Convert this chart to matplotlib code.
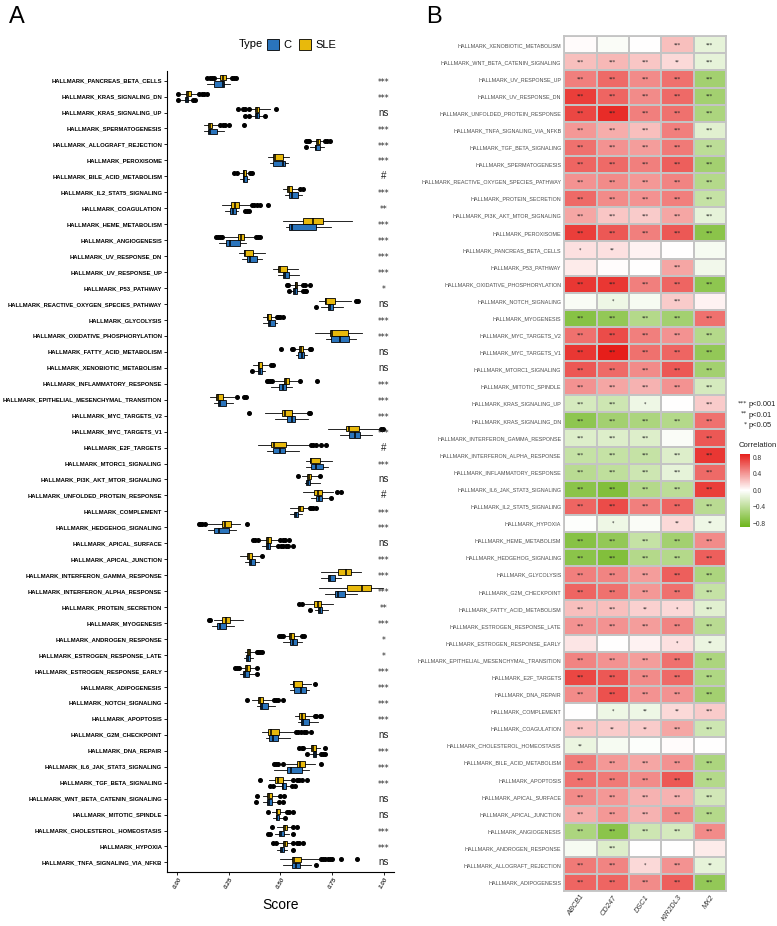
import numpy as np
import matplotlib
matplotlib.use('Agg')
import matplotlib.pyplot as plt
from matplotlib.colors import LinearSegmentedColormap
from matplotlib.patches import Patch

# ---------------------------------------------------------------
# Panel A data: ssGSEA scores (box stats: whislo, q1, med, q3, whishi)
# ---------------------------------------------------------------
pathways_a = [
    'PANCREAS_BETA_CELLS', 'KRAS_SIGNALING_DN', 'KRAS_SIGNALING_UP', 'SPERMATOGENESIS',
    'ALLOGRAFT_REJECTION', 'PEROXISOME', 'BILE_ACID_METABOLISM', 'IL2_STAT5_SIGNALING',
    'COAGULATION', 'HEME_METABOLISM', 'ANGIOGENESIS', 'UV_RESPONSE_DN', 'UV_RESPONSE_UP',
    'P53_PATHWAY', 'REACTIVE_OXYGEN_SPECIES_PATHWAY', 'GLYCOLYSIS', 'OXIDATIVE_PHOSPHORYLATION',
    'FATTY_ACID_METABOLISM', 'XENOBIOTIC_METABOLISM', 'INFLAMMATORY_RESPONSE',
    'EPITHELIAL_MESENCHYMAL_TRANSITION', 'MYC_TARGETS_V2', 'MYC_TARGETS_V1', 'E2F_TARGETS',
    'MTORC1_SIGNALING', 'PI3K_AKT_MTOR_SIGNALING', 'UNFOLDED_PROTEIN_RESPONSE', 'COMPLEMENT',
    'HEDGEHOG_SIGNALING', 'APICAL_SURFACE', 'APICAL_JUNCTION', 'INTERFERON_GAMMA_RESPONSE',
    'INTERFERON_ALPHA_RESPONSE', 'PROTEIN_SECRETION', 'MYOGENESIS', 'ANDROGEN_RESPONSE',
    'ESTROGEN_RESPONSE_LATE', 'ESTROGEN_RESPONSE_EARLY', 'ADIPOGENESIS', 'NOTCH_SIGNALING',
    'APOPTOSIS', 'G2M_CHECKPOINT', 'DNA_REPAIR', 'IL6_JAK_STAT3_SIGNALING', 'TGF_BETA_SIGNALING',
    'WNT_BETA_CATENIN_SIGNALING', 'MITOTIC_SPINDLE', 'CHOLESTEROL_HOMEOSTASIS', 'HYPOXIA',
    'TNFA_SIGNALING_VIA_NFKB',
]

signif_a = ['***', '***', 'ns', '***', '***', '***', '#', '***', '**', '***', '***', '***', '***',
            '*', 'ns', '***', '***', 'ns', 'ns', '***', '***', '***', '***', '#', '***', 'ns', '#',
            '***', '***', 'ns', '***', '***', '***', '**', '***', '*', '*', '***', '***', '***',
            '***', 'ns', '***', '***', '***', 'ns', 'ns', '***', '***', 'ns']

sle_stats = [
    [0.185, 0.205, 0.22, 0.236, 0.257], [0.02, 0.043, 0.053, 0.067, 0.10],
    [0.353, 0.374, 0.385, 0.398, 0.45], [0.128, 0.148, 0.157, 0.17, 0.2],
    [0.645, 0.674, 0.682, 0.693, 0.71], [0.441, 0.462, 0.475, 0.514, 0.543],
    [0.302, 0.316, 0.323, 0.332, 0.337], [0.514, 0.533, 0.541, 0.555, 0.586],
    [0.217, 0.262, 0.278, 0.3, 0.353], [0.514, 0.61, 0.658, 0.706, 0.848],
    [0.225, 0.292, 0.308, 0.324, 0.37], [0.297, 0.321, 0.329, 0.369, 0.425],
    [0.465, 0.49, 0.498, 0.533, 0.583], [0.546, 0.57, 0.575, 0.581, 0.602],
    [0.687, 0.714, 0.722, 0.762, 0.843], [0.417, 0.433, 0.441, 0.453, 0.473],
    [0.666, 0.738, 0.751, 0.827, 0.896], [0.57, 0.591, 0.599, 0.61, 0.634],
    [0.366, 0.39, 0.398, 0.411, 0.441], [0.473, 0.517, 0.526, 0.543, 0.586],
    [0.157, 0.185, 0.196, 0.221, 0.273], [0.425, 0.507, 0.522, 0.554, 0.63],
    [0.73, 0.819, 0.831, 0.88, 0.979], [0.393, 0.454, 0.469, 0.526, 0.642],
    [0.626, 0.642, 0.65, 0.69, 0.75], [0.602, 0.629, 0.639, 0.65, 0.685],
    [0.61, 0.663, 0.682, 0.701, 0.754], [0.546, 0.586, 0.594, 0.607, 0.634],
    [0.144, 0.217, 0.233, 0.262, 0.302], [0.401, 0.429, 0.441, 0.454, 0.49],
    [0.302, 0.337, 0.345, 0.364, 0.401], [0.695, 0.778, 0.819, 0.843, 0.891],
    [0.687, 0.822, 0.894, 0.939, 0.995], [0.618, 0.663, 0.682, 0.698, 0.754],
    [0.177, 0.217, 0.236, 0.257, 0.318], [0.522, 0.543, 0.552, 0.565, 0.594],
    [0.329, 0.337, 0.345, 0.353, 0.377], [0.305, 0.329, 0.34, 0.353, 0.377],
    [0.546, 0.559, 0.567, 0.602, 0.65], [0.361, 0.39, 0.401, 0.417, 0.457],
    [0.57, 0.591, 0.602, 0.618, 0.658], [0.409, 0.441, 0.453, 0.494, 0.57],
    [0.62, 0.647, 0.658, 0.674, 0.69], [0.525, 0.578, 0.594, 0.618, 0.666],
    [0.446, 0.475, 0.486, 0.514, 0.559], [0.417, 0.433, 0.446, 0.461, 0.49],
    [0.457, 0.477, 0.485, 0.498, 0.52], [0.482, 0.51, 0.522, 0.533, 0.559],
    [0.482, 0.514, 0.522, 0.533, 0.559], [0.498, 0.554, 0.565, 0.599, 0.69],
]
sle_out = [
    [0.145, 0.157, 0.168, 0.177, 0.265, 0.276, 0.286], [0.005, 0.107, 0.117, 0.128, 0.143],
    [0.292, 0.32, 0.33, 0.345, 0.48], [0.209, 0.222, 0.233, 0.249, 0.324],
    [0.626, 0.634, 0.64, 0.715, 0.725, 0.738], [], [0.273, 0.29, 0.353, 0.361], [0.594, 0.607],
    [0.361, 0.37, 0.385, 0.401, 0.441], [], [0.185, 0.195, 0.205, 0.215, 0.38, 0.39, 0.40], [],
    [], [0.53, 0.538, 0.61, 0.62, 0.642], [0.864, 0.875], [0.482, 0.49, 0.498, 0.514], [],
    [0.502, 0.554, 0.562, 0.642, 0.65], [0.453, 0.465], [0.433, 0.441, 0.449, 0.457, 0.594, 0.679],
    [0.289, 0.321, 0.332], [0.347, 0.637, 0.642], [0.987, 0.995],
    [0.65, 0.66, 0.674, 0.698, 0.722], [], [0.583, 0.693], [0.775, 0.791],
    [0.642, 0.65, 0.66, 0.671], [0.104, 0.112, 0.12, 0.132, 0.34],
    [0.369, 0.377, 0.393, 0.498, 0.51, 0.522, 0.543], [0.412], [], [], [0.591, 0.602],
    [0.152, 0.16], [0.494, 0.502, 0.514, 0.602, 0.613], [0.385, 0.393, 0.401, 0.409],
    [0.281, 0.289, 0.297, 0.385], [0.669], [0.337, 0.47, 0.48, 0.49, 0.514],
    [0.666, 0.674, 0.69, 0.698], [0.575, 0.586, 0.6, 0.615, 0.626, 0.65],
    [0.591, 0.602, 0.61, 0.714], [0.469, 0.478, 0.49, 0.514, 0.698],
    [0.401, 0.562, 0.578, 0.59, 0.602, 0.629], [0.385, 0.5, 0.517], [0.441, 0.53, 0.54, 0.559],
    [0.457, 0.562, 0.58], [0.465, 0.478, 0.562, 0.578, 0.59, 0.607],
    [0.695, 0.706, 0.714, 0.73, 0.738, 0.748, 0.795, 0.87],
]
c_stats = [
    [0.145, 0.177, 0.22, 0.228, 0.257], [0.02, 0.035, 0.045, 0.053, 0.065],
    [0.355, 0.377, 0.388, 0.398, 0.42], [0.128, 0.148, 0.157, 0.19, 0.225],
    [0.642, 0.666, 0.674, 0.69, 0.71], [0.45, 0.462, 0.51, 0.522, 0.537],
    [0.305, 0.316, 0.323, 0.337, 0.345], [0.522, 0.539, 0.558, 0.583, 0.602],
    [0.233, 0.254, 0.268, 0.282, 0.292], [0.526, 0.543, 0.558, 0.671, 0.746],
    [0.2, 0.238, 0.254, 0.302, 0.334], [0.313, 0.337, 0.353, 0.385, 0.409],
    [0.49, 0.51, 0.522, 0.543, 0.59], [0.55, 0.562, 0.568, 0.581, 0.6],
    [0.698, 0.73, 0.738, 0.754, 0.803], [0.417, 0.438, 0.449, 0.473, 0.485],
    [0.722, 0.746, 0.787, 0.831, 0.867], [0.574, 0.587, 0.602, 0.615, 0.628],
    [0.377, 0.393, 0.401, 0.409, 0.425], [0.453, 0.494, 0.51, 0.526, 0.554],
    [0.177, 0.196, 0.209, 0.236, 0.27], [0.473, 0.533, 0.554, 0.571, 0.634],
    [0.787, 0.831, 0.859, 0.886, 0.944], [0.433, 0.465, 0.498, 0.523, 0.59],
    [0.626, 0.65, 0.674, 0.706, 0.73], [0.618, 0.626, 0.634, 0.645, 0.69],
    [0.65, 0.671, 0.685, 0.701, 0.73], [0.546, 0.565, 0.575, 0.586, 0.602],
    [0.148, 0.177, 0.2, 0.249, 0.286], [0.409, 0.43, 0.441, 0.449, 0.482],
    [0.329, 0.345, 0.356, 0.374, 0.398], [0.695, 0.73, 0.738, 0.762, 0.795],
    [0.714, 0.762, 0.778, 0.811, 0.87], [0.666, 0.682, 0.69, 0.701, 0.73],
    [0.169, 0.193, 0.205, 0.238, 0.273], [0.514, 0.546, 0.562, 0.581, 0.602],
    [0.321, 0.334, 0.342, 0.35, 0.369], [0.305, 0.318, 0.329, 0.345, 0.377],
    [0.546, 0.565, 0.599, 0.623, 0.639], [0.385, 0.401, 0.409, 0.441, 0.473],
    [0.586, 0.599, 0.61, 0.639, 0.682], [0.43, 0.446, 0.462, 0.49, 0.546],
    [0.642, 0.658, 0.666, 0.674, 0.69], [0.47, 0.53, 0.549, 0.602, 0.639],
    [0.47, 0.506, 0.514, 0.527, 0.546], [0.417, 0.433, 0.446, 0.457, 0.486],
    [0.465, 0.477, 0.485, 0.494, 0.51], [0.473, 0.494, 0.502, 0.517, 0.54],
    [0.482, 0.498, 0.507, 0.517, 0.533], [0.514, 0.554, 0.575, 0.594, 0.65],
]
c_out = [
    [], [0.005, 0.075, 0.085], [0.33, 0.345, 0.425], [], [0.626], [], [], [],
    [0.326, 0.337, 0.345], [], [], [], [], [0.543, 0.61, 0.618, 0.626], [0.674], [], [], [],
    [0.361], [], [], [], [], [], [], [], [0.746], [], [], [0.49, 0.502, 0.514, 0.526, 0.538, 0.562],
    [], [], [], [0.642], [], [], [], [0.388], [], [], [], [], [0.629, 0.698, 0.706, 0.714], [],
    [0.449, 0.462, 0.554, 0.57], [0.38, 0.494, 0.51], [0.522], [0.441, 0.45, 0.559], [0.562],
    [0.674],
]

# ---------------------------------------------------------------
# Panel B data: correlation of hallmark scores with genes
# ---------------------------------------------------------------
genes = ['ABCB1', 'CD247', 'DSC1', 'KIR2DL3', 'MX2']
pathways_b = [
    'XENOBIOTIC_METABOLISM', 'WNT_BETA_CATENIN_SIGNALING', 'UV_RESPONSE_UP', 'UV_RESPONSE_DN',
    'UNFOLDED_PROTEIN_RESPONSE', 'TNFA_SIGNALING_VIA_NFKB', 'TGF_BETA_SIGNALING',
    'SPERMATOGENESIS', 'REACTIVE_OXYGEN_SPECIES_PATHWAY', 'PROTEIN_SECRETION',
    'PI3K_AKT_MTOR_SIGNALING', 'PEROXISOME', 'PANCREAS_BETA_CELLS', 'P53_PATHWAY',
    'OXIDATIVE_PHOSPHORYLATION', 'NOTCH_SIGNALING', 'MYOGENESIS', 'MYC_TARGETS_V2',
    'MYC_TARGETS_V1', 'MTORC1_SIGNALING', 'MITOTIC_SPINDLE', 'KRAS_SIGNALING_UP',
    'KRAS_SIGNALING_DN', 'INTERFERON_GAMMA_RESPONSE', 'INTERFERON_ALPHA_RESPONSE',
    'INFLAMMATORY_RESPONSE', 'IL6_JAK_STAT3_SIGNALING', 'IL2_STAT5_SIGNALING', 'HYPOXIA',
    'HEME_METABOLISM', 'HEDGEHOG_SIGNALING', 'GLYCOLYSIS', 'G2M_CHECKPOINT',
    'FATTY_ACID_METABOLISM', 'ESTROGEN_RESPONSE_LATE', 'ESTROGEN_RESPONSE_EARLY',
    'EPITHELIAL_MESENCHYMAL_TRANSITION', 'E2F_TARGETS', 'DNA_REPAIR', 'COMPLEMENT',
    'COAGULATION', 'CHOLESTEROL_HOMEOSTASIS', 'BILE_ACID_METABOLISM', 'APOPTOSIS',
    'APICAL_SURFACE', 'APICAL_JUNCTION', 'ANGIOGENESIS', 'ANDROGEN_RESPONSE',
    'ALLOGRAFT_REJECTION', 'ADIPOGENESIS',
]
corr = [
    [0.02, -0.03, 0.0, 0.25, -0.15], [0.25, 0.28, 0.22, 0.15, -0.15],
    [0.5, 0.58, 0.45, 0.55, -0.55], [0.75, 0.6, 0.45, 0.58, -0.55],
    [0.72, 0.82, 0.5, 0.55, -0.5], [0.4, 0.32, 0.25, 0.5, -0.18],
    [0.55, 0.42, 0.38, 0.52, -0.4], [0.6, 0.58, 0.5, 0.62, -0.55],
    [0.42, 0.45, 0.4, 0.48, -0.45], [0.58, 0.45, 0.42, 0.5, -0.35],
    [0.35, 0.22, 0.2, 0.35, -0.15], [0.75, 0.65, 0.5, 0.65, -0.7],
    [0.12, 0.12, 0.05, 0.0, -0.05], [0.08, 0.01, 0.0, 0.35, -0.08],
    [0.78, 0.78, 0.5, 0.6, -0.68], [-0.04, -0.1, -0.05, 0.2, 0.05],
    [-0.72, -0.65, -0.45, -0.55, 0.55], [0.55, 0.7, 0.5, 0.42, -0.45],
    [0.78, 0.88, 0.55, 0.6, -0.65], [0.65, 0.58, 0.45, 0.65, -0.55],
    [0.42, 0.35, 0.3, 0.42, -0.25], [-0.25, -0.3, -0.1, 0.0, 0.2],
    [-0.68, -0.55, -0.5, -0.45, 0.55], [-0.2, -0.2, -0.2, -0.03, 0.65],
    [-0.35, -0.35, -0.35, -0.2, 0.78], [-0.42, -0.38, -0.3, -0.15, 0.58],
    [-0.7, -0.75, -0.45, -0.4, 0.75], [0.6, 0.7, 0.5, 0.6, -0.42],
    [-0.01, -0.1, -0.03, 0.15, -0.1], [-0.72, -0.65, -0.35, -0.55, 0.45],
    [-0.7, -0.75, -0.45, -0.45, 0.62], [0.5, 0.48, 0.38, 0.62, -0.5],
    [0.6, 0.55, 0.4, 0.55, -0.35], [0.25, 0.25, 0.18, 0.15, -0.18],
    [0.42, 0.42, 0.38, 0.48, -0.42], [0.1, 0.0, 0.05, 0.12, -0.12],
    [0.48, 0.42, 0.38, 0.55, -0.5], [0.72, 0.65, 0.45, 0.58, -0.48],
    [0.45, 0.68, 0.42, 0.42, -0.55], [0.0, -0.1, -0.1, 0.15, 0.2],
    [0.22, 0.2, 0.2, 0.35, -0.3], [-0.12, -0.05, -0.02, 0.02, 0.0],
    [0.52, 0.4, 0.35, 0.42, -0.5], [0.55, 0.52, 0.45, 0.65, -0.45],
    [0.45, 0.4, 0.3, 0.3, -0.28], [0.32, 0.4, 0.3, 0.45, -0.45],
    [-0.5, -0.7, -0.3, -0.25, 0.45], [-0.05, -0.2, 0.0, 0.0, 0.08],
    [0.52, 0.48, 0.15, 0.42, -0.15], [0.6, 0.6, 0.45, 0.62, -0.65],
]
S3 = ['***'] * 5
stars_b = [
    ['', '', '', '***', '***'], ['***', '***', '***', '**', '***'], S3, S3, S3, S3, S3, S3, S3, S3,
    S3, S3, ['*', '**', '', '', ''], ['', '', '', '***', ''], S3, ['', '*', '', '***', ''],
    S3, S3, S3, S3, S3, ['***', '***', '*', '', '***'], S3, ['***', '***', '***', '', '***'],
    S3, S3, S3, S3, ['', '*', '', '**', '**'], S3, S3, S3, S3, ['***', '***', '**', '*', '***'],
    S3, ['', '', '', '*', '**'], S3, S3, S3, ['', '*', '**', '**', '***'],
    ['***', '**', '**', '***', '***'], ['**', '', '', '', ''], S3, S3, S3, S3, S3,
    ['', '***', '', '', ''], ['***', '***', '*', '***', '**'], S3,
]

# ---------------------------------------------------------------
plt.rcParams['font.family'] = ['Liberation Sans', 'DejaVu Sans']

col_c, col_sle = '#2A74BC', '#E8B90C'

fig = plt.figure(figsize=(7.77, 9.26), dpi=100)

# ======================= Panel A =======================
ax = fig.add_axes([0.215, 0.0583, 0.292, 0.865])
n = len(pathways_a)
ypos = np.arange(n)[::-1] + 1


def make_stats(st, out):
    return [dict(whislo=s[0], q1=s[1], med=s[2], q3=s[3], whishi=s[4], fliers=o)
            for s, o in zip(st, out)]


for stats, shift, col in [(make_stats(c_stats, c_out), -0.19, col_c),
                          (make_stats(sle_stats, sle_out), 0.19, col_sle)]:
    ax.bxp(stats, positions=ypos + shift, widths=0.36, orientation='horizontal',
           patch_artist=True, showcaps=False,
           boxprops=dict(facecolor=col, edgecolor='black', linewidth=0.6),
           medianprops=dict(color='black', linewidth=1.1),
           whiskerprops=dict(color='black', linewidth=0.6),
           flierprops=dict(marker='o', markerfacecolor='black', markeredgecolor='black',
                           markersize=2.6))

for y, s in zip(ypos, signif_a):
    if s in ('ns', '#'):
        ax.text(1.0, y, s, ha='center', va='center', fontsize=7, color='#222222')
    else:
        ax.text(1.0, y - 0.1, s, ha='center', va='center', fontsize=5.5, color='#222222',
                family='DejaVu Sans')

ax.set_xlim(-0.05, 1.05)
ax.set_ylim(0.4, n + 0.6)
ax.set_yticks(ypos)
ax.set_yticklabels(['HALLMARK_' + p for p in pathways_a], fontsize=4.2, fontweight='bold')
ax.set_xticks([0, 0.25, 0.5, 0.75, 1.0])
ax.set_xticklabels(['0.00', '0.25', '0.50', '0.75', '1.00'], rotation=60, fontsize=4.5,
                   fontstyle='italic', fontweight='bold', color='#333333')
ax.set_xlabel('Score', fontsize=10, labelpad=6)
ax.spines['top'].set_visible(False)
ax.spines['right'].set_visible(False)
ax.tick_params(axis='both', length=2, width=0.6, pad=1.5)

# legend for panel A
fig.text(0.338, 0.952, 'Type', fontsize=8, ha='right', va='center')
fig.legend(handles=[Patch(facecolor=col_c, edgecolor='black', lw=0.6, label='C'),
                    Patch(facecolor=col_sle, edgecolor='black', lw=0.6, label='SLE')],
           loc='center left', bbox_to_anchor=(0.343, 0.952), ncol=2, frameon=False,
           fontsize=8, handlelength=1.1, handleheight=1.1, handletextpad=0.4,
           columnspacing=0.7, borderaxespad=0, borderpad=0)

# ======================= Panel B =======================
axh = fig.add_axes([0.726, 0.0378, 0.2085, 0.923])
cmap = LinearSegmentedColormap.from_list('gwr', ['#6DB51C', '#FFFFFF', '#E61E1A'])
vals = np.array(corr)
nb = len(pathways_b)
mesh = axh.pcolormesh(np.arange(len(genes) + 1), np.arange(nb + 1), vals[::-1],
                      cmap=cmap, vmin=-0.88, vmax=0.88, edgecolors='#C4C4C4', linewidth=1.3)
for i, row in enumerate(stars_b):
    for j, st in enumerate(row):
        if st:
            axh.text(j + 0.5, nb - i - 0.5, st, ha='center', va='center', fontsize=3.4,
                     color='#222222', family='DejaVu Sans')
axh.set_xlim(0, len(genes))
axh.set_ylim(0, nb)
axh.set_yticks(np.arange(nb) + 0.5)
axh.set_yticklabels(['HALLMARK_' + p for p in pathways_b][::-1], fontsize=3.9,
                    color='#4D4D4D')
axh.set_xticks(np.arange(len(genes)) + 0.5)
axh.set_xticklabels(genes, rotation=55, ha='right', rotation_mode='anchor', fontsize=5.3,
                    fontstyle='italic', color='#333333')
axh.tick_params(axis='both', length=0, pad=2)
for sp in axh.spines.values():
    sp.set_color('#C4C4C4')
    sp.set_linewidth(1.3)

# significance key
for k, (st, lab) in enumerate([('***', 'p<0.001'), ('**', 'p<0.01'), ('*', 'p<0.05')]):
    yy = 0.563 - k * 0.0115
    fig.text(0.961, yy + 0.002, st, fontsize=4.5, ha='right', va='center', color='#222222',
             family='DejaVu Sans')
    fig.text(0.963, yy, lab, fontsize=5.4, ha='left', va='center', color='#222222')

fig.text(0.951, 0.519, 'Correlation', fontsize=5.6, ha='left', va='center', color='#222222')
cax = fig.add_axes([0.952, 0.431, 0.013, 0.079])
cb = fig.colorbar(mesh, cax=cax, ticks=[-0.8, -0.4, 0.0, 0.4, 0.8])
cb.ax.set_yticklabels(['\u22120.8', '\u22120.4', '0.0', '0.4', '0.8'])
cb.ax.tick_params(labelsize=4.8, length=0, pad=2, colors='#333333')
cb.outline.set_visible(False)

fig.text(0.012, 0.982, 'A', fontsize=17, ha='left', va='center')
fig.text(0.548, 0.982, 'B', fontsize=17, ha='left', va='center')

fig.savefig('out.png', dpi=100, facecolor='white')
